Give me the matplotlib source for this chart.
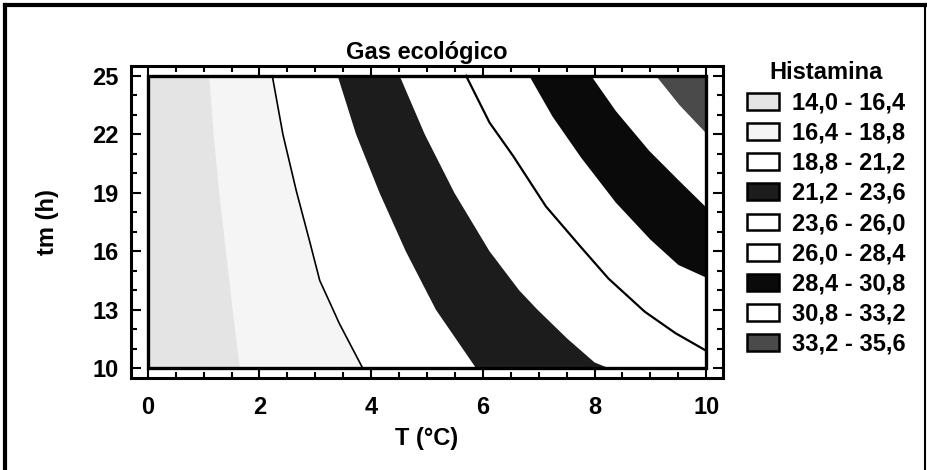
import matplotlib
matplotlib.use('Agg')
import matplotlib.pyplot as plt
from matplotlib.patches import Patch, Rectangle
from matplotlib.lines import Line2D

plt.rcParams['font.family'] = ['Liberation Sans', 'DejaVu Sans']
plt.rcParams['font.weight'] = 'bold'

# histamine classes and fill colour of each band
levels = [14.0, 16.4, 18.8, 21.2, 23.6, 26.0, 28.4, 30.8, 33.2, 35.6]
band_colors = ['#e4e4e4', '#f5f5f5', 'white', '#1c1c1c', 'white',
               'white', '#0a0a0a', 'white', '#4a4a4a']

T_range = [0, 10]
tm_range = [10, 25]

# contour boundaries (tm in h, T in degC)
tm_164 = [25, 22, 19, 16, 13, 10]
T_164 = [1.10, 1.18, 1.28, 1.40, 1.52, 1.65]

tm_188 = [25, 22, 19.1, 16.5, 14.5, 13.5, 12.3, 10]
T_188 = [2.23, 2.42, 2.66, 2.90, 3.08, 3.24, 3.43, 3.85]

tm_212 = [25, 22, 19, 16, 13, 10]
T_212 = [3.40, 3.73, 4.15, 4.62, 5.16, 5.88]

tm_236 = [25, 22, 19, 16, 14, 13, 11.5, 10.3, 10]
T_236 = [4.51, 4.96, 5.49, 6.12, 6.65, 6.98, 7.52, 8.0, 8.26]

tm_260 = [25, 22.6, 20.9, 18.3, 16.3, 14.6, 12.9, 11.8, 10.9]
T_260 = [5.70, 6.12, 6.54, 7.13, 7.73, 8.25, 8.90, 9.45, 10.0]

tm_284 = [25, 22.9, 20.8, 18.5, 16.6, 15.3, 14.65]
T_284 = [6.83, 7.25, 7.76, 8.38, 9.0, 9.5, 10.0]

tm_308 = [25, 23.2, 21.15, 19.6, 18.25]
T_308 = [7.94, 8.38, 8.98, 9.52, 10.0]

tm_332 = [25, 23.5, 22.05]
T_332 = [9.10, 9.52, 10.0]

boundaries = [(T_164, tm_164), (T_188, tm_188), (T_212, tm_212),
              (T_236, tm_236), (T_260, tm_260), (T_284, tm_284),
              (T_308, tm_308), (T_332, tm_332)]


def upper_region(T, tm):
    # region on the high-T side of a boundary, closed along the data box
    xs = list(T)
    ys = list(tm)
    if xs[-1] < T_range[1]:
        xs.append(T_range[1])
        ys.append(ys[-1])
    xs.append(T_range[1])
    ys.append(tm_range[1])
    return xs, ys


fig = plt.figure(figsize=(9.27, 4.70), dpi=100)
ax = fig.add_axes([0.1413, 0.1957, 0.6386, 0.6638])

ax.fill([T_range[0], T_range[1], T_range[1], T_range[0]],
        [tm_range[0], tm_range[0], tm_range[1], tm_range[1]],
        color=band_colors[0], lw=0, zorder=1)
for (T, tm), c in zip(boundaries, band_colors[1:]):
    xs, ys = upper_region(T, tm)
    ax.fill(xs, ys, color=c, lw=0, zorder=2)

# drawn contour lines between the white bands
ax.plot(T_188, tm_188, color='black', lw=1.2, zorder=3)
ax.plot(T_260, tm_260, color='black', lw=1.6, zorder=3)

ax.add_patch(Rectangle((T_range[0], tm_range[0]), T_range[1] - T_range[0],
                       tm_range[1] - tm_range[0], fill=False,
                       ec='black', lw=2.4, zorder=4))

ax.set_xlim(-0.3, 10.3)
ax.set_ylim(9.5, 25.5)
ax.set_xticks([0, 2, 4, 6, 8, 10])
ax.set_yticks([10, 13, 16, 19, 22, 25])
ax.set_xticks([x * 0.5 for x in range(21)], minor=True)
ax.set_yticks(list(range(10, 26)), minor=True)
ax.tick_params(which='both', direction='in', top=True, right=True,
               width=1.5, labelsize=17)
ax.tick_params(which='major', length=7)
ax.tick_params(which='minor', length=4)
ax.tick_params(axis='x', pad=13)
ax.tick_params(axis='y', pad=9)
for s in ax.spines.values():
    s.set_linewidth(2.2)

ax.set_title('Gas ecológico', fontsize=17, fontweight='bold', pad=5)
ax.set_xlabel('T (°C)', fontsize=17, fontweight='bold', labelpad=6)
ax.set_ylabel('tm (h)', fontsize=17, fontweight='bold', labelpad=24)

labels = []
for a, b in zip(levels[:-1], levels[1:]):
    labels.append(f'{a:.1f} - {b:.1f}'.replace('.', ','))
handles = [Patch(facecolor=c, edgecolor='black', lw=1.8) for c in band_colors]
leg = fig.legend(handles, labels, title='Histamina', loc='upper left',
                 bbox_to_anchor=(0.788, 0.905), frameon=False,
                 fontsize=17, title_fontsize=17, handlelength=1.35,
                 handleheight=0.72, labelspacing=0.305, handletextpad=0.55,
                 borderpad=0.2)

# outer border of the page
fig.add_artist(Line2D([0.005, 0.005], [0.0, 0.99], color='black', lw=3))
fig.add_artist(Line2D([0.005, 0.998], [0.99, 0.99], color='black', lw=3))
fig.add_artist(Line2D([0.998, 0.998], [0.0, 0.99], color='black', lw=1.5))

fig.savefig('out.png', dpi=100)
